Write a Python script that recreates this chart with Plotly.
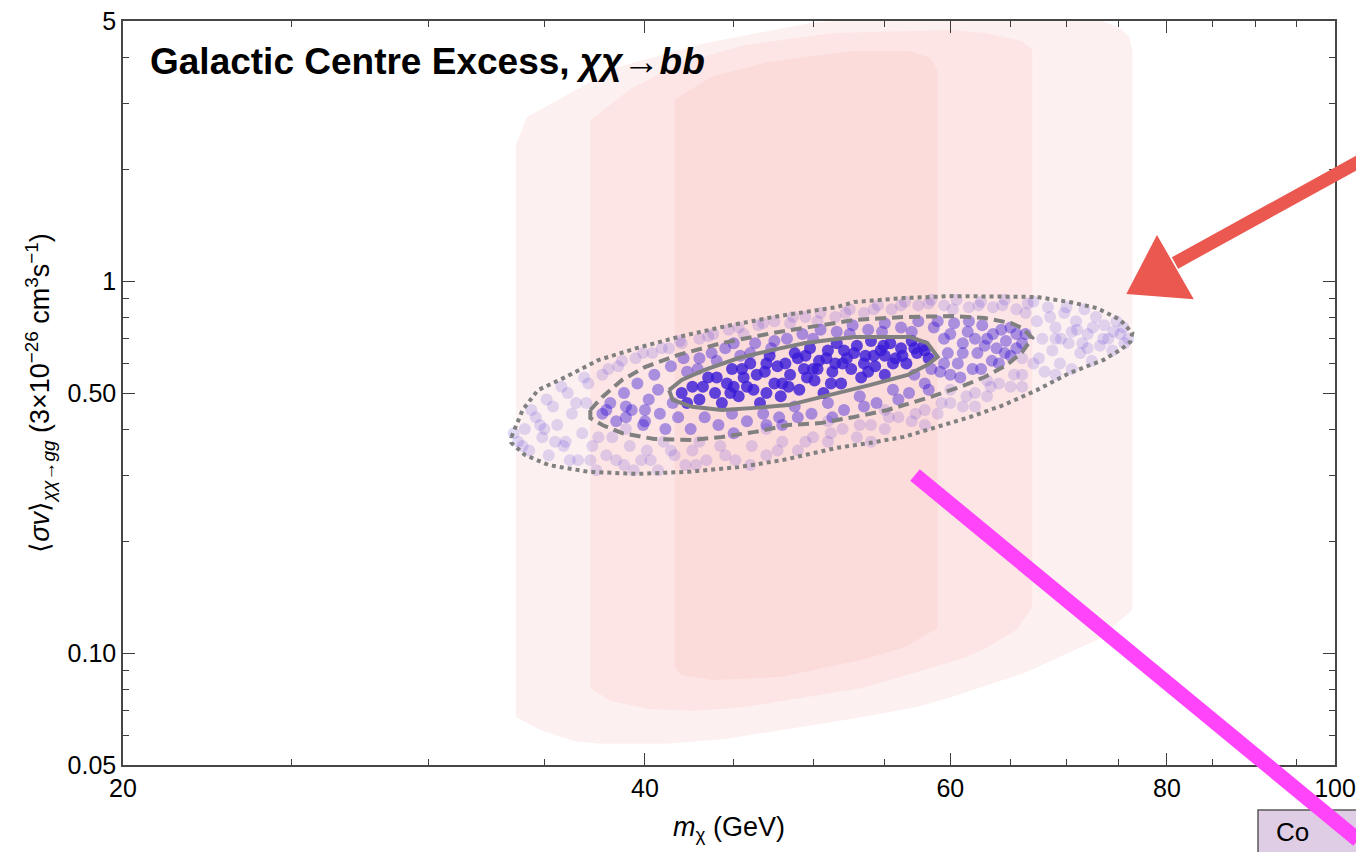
import plotly.graph_objects as go

# ---------------- data ----------------
# shaded regions (GeV, units of 3e-26 cm^3/s)
outer_x = [33.7, 34.2, 36.5, 38.6, 43.3, 49.8, 53.0, 72.9, 75.0, 76.1, 76.4, 76.4, 72.9, 66.2, 60.1, 57.4, 53.0, 44.5, 41.1, 37.7, 36.4, 34.8, 33.7]
outer_y = [2.32, 2.76, 3.26, 3.76, 4.36, 4.94, 5.05, 5.05, 4.82, 4.53, 4.18, 0.1305, 0.1084, 0.0884, 0.0762, 0.0716, 0.0669, 0.0587, 0.0570, 0.0570, 0.0580, 0.0621, 0.0673]
mid_x = [37.2, 39.3, 42.0, 45.7, 51.3, 60.0, 62.9, 66.0, 66.9, 66.9, 65.5, 62.9, 61.1, 53.4, 45.7, 42.7, 40.2, 38.2, 37.2]
mid_y = [2.71, 3.30, 3.86, 4.31, 4.64, 4.73, 4.64, 4.42, 4.18, 0.1330, 0.1153, 0.1032, 0.0970, 0.0805, 0.0716, 0.0699, 0.0707, 0.0743, 0.0805]
inner_x = [41.6, 43.7, 47.1, 52.7, 56.8, 58.4, 59.0, 59.0, 56.5, 53.6, 47.9, 43.7, 42.0, 41.6]
inner_y = [3.07, 3.54, 3.88, 4.15, 4.15, 3.98, 3.65, 0.1168, 0.1038, 0.0964, 0.0862, 0.0846, 0.0873, 0.0917]

# contours
dot_x = [33.5, 34.0, 34.7, 36.0, 37.6, 39.6, 41.8, 44.3, 47.4, 51.6, 52.8, 56.4, 60.2, 64.4, 67.3, 70.3, 72.9, 75.2, 76.4, 76.2, 75.2, 73.5, 70.3, 67.3, 64.4, 61.6, 58.9, 56.4, 53.9, 51.6, 48.0, 45.3, 42.4, 39.6, 37.1, 35.2, 34.1, 33.5, 33.5]
dot_y = [0.381, 0.450, 0.509, 0.552, 0.613, 0.661, 0.707, 0.752, 0.800, 0.851, 0.878, 0.900, 0.911, 0.911, 0.906, 0.878, 0.846, 0.786, 0.725, 0.686, 0.653, 0.613, 0.566, 0.509, 0.464, 0.431, 0.405, 0.381, 0.367, 0.356, 0.330, 0.316, 0.307, 0.303, 0.307, 0.320, 0.341, 0.367, 0.381]
dash_x = [37.2, 37.8, 38.8, 40.0, 41.8, 44.3, 47.4, 51.6, 52.8, 56.4, 60.2, 62.8, 65.0, 66.0, 66.9, 66.0, 64.7, 62.8, 60.8, 58.2, 55.2, 52.8, 50.5, 48.4, 46.3, 44.3, 42.6, 40.5, 38.8, 37.8, 37.2, 37.2]
dash_y = [0.450, 0.488, 0.542, 0.587, 0.633, 0.681, 0.725, 0.771, 0.786, 0.800, 0.805, 0.795, 0.771, 0.748, 0.703, 0.644, 0.595, 0.552, 0.519, 0.485, 0.450, 0.431, 0.415, 0.410, 0.393, 0.381, 0.374, 0.376, 0.390, 0.410, 0.428, 0.450]
solid_x = [41.3, 42.0, 43.3, 45.3, 47.4, 49.5, 51.6, 52.8, 55.2, 56.9, 58.2, 59.0, 58.2, 56.7, 53.9, 51.6, 50.5, 48.4, 46.3, 44.3, 42.6, 41.5, 41.3]
solid_y = [0.509, 0.542, 0.577, 0.621, 0.653, 0.681, 0.698, 0.707, 0.707, 0.707, 0.681, 0.625, 0.595, 0.559, 0.525, 0.500, 0.488, 0.464, 0.456, 0.450, 0.459, 0.479, 0.509]

# scan points: 1 sigma (dark)
p1_x = [42.0, 42.6, 43.0, 43.5, 43.9, 44.3, 44.6, 44.9, 45.3, 45.6, 46.0, 46.2, 46.6, 46.9, 47.2, 47.5, 47.9, 48.2, 48.5, 48.8, 49.1, 49.4, 49.8, 50.1, 50.4, 50.7, 51.0, 51.3, 51.6, 51.9, 52.3, 52.6, 53.0, 53.3, 53.6, 54.0, 54.3, 54.7, 55.0, 55.4, 55.8, 56.2, 56.6, 57.0, 57.4, 57.9, 58.3, 45.0, 48.0, 52.0, 55.0, 50.0,
        42.3, 43.2, 44.0, 44.8, 45.8, 46.4, 47.0, 47.7, 48.4, 49.0, 49.6, 50.3, 50.9, 51.5, 52.1, 52.8, 53.5, 54.2, 54.9, 55.6, 56.3, 57.2, 58.0, 45.5, 47.0, 49.5, 51.2, 53.8]
p1_y = [0.50, 0.52, 0.48, 0.55, 0.50, 0.47, 0.53, 0.58, 0.49, 0.55, 0.60, 0.51, 0.47, 0.57, 0.63, 0.53, 0.49, 0.60, 0.56, 0.64, 0.51, 0.58, 0.66, 0.54, 0.61, 0.50, 0.65, 0.57, 0.68, 0.53, 0.62, 0.58, 0.67, 0.55, 0.63, 0.69, 0.59, 0.65, 0.56, 0.68, 0.62, 0.66, 0.60, 0.69, 0.64, 0.67, 0.62, 0.52, 0.53, 0.60, 0.63, 0.58,
        0.47, 0.52, 0.55, 0.50, 0.52, 0.56, 0.50, 0.59, 0.52, 0.62, 0.55, 0.58, 0.62, 0.60, 0.65, 0.64, 0.60, 0.63, 0.67, 0.60, 0.63, 0.66, 0.65, 0.58, 0.60, 0.63, 0.53, 0.57]
# 2 sigma (medium)
p2_x = [37.8, 38.2, 38.5, 38.9, 39.3, 39.6, 39.9, 40.2, 40.5, 40.8, 41.1, 41.4, 41.8, 42.1, 42.5, 42.9, 43.3, 43.7, 44.1, 44.5, 44.9, 45.4, 45.8, 46.3, 46.8, 47.3, 47.8, 48.3, 48.8, 49.3, 49.9, 50.5, 51.0, 51.6, 52.1, 52.7, 53.2, 53.8, 54.4, 55.0, 55.6, 56.2, 56.8, 57.5, 58.0, 58.7, 59.2, 59.5, 59.8, 60.3, 60.6, 61.0, 61.4, 61.8, 62.2, 62.6, 63.0, 63.4, 63.8, 64.2, 64.6, 65.0, 65.5, 66.0, 60.0, 62.0, 58.5, 57.2, 48.0, 45.0, 40.0, 39.0,
        38.0, 39.0, 40.0, 40.7, 41.5, 42.3, 43.0, 44.0, 45.0, 46.0, 47.0, 47.5, 49.0, 50.0, 51.3, 52.5, 53.5, 54.8, 56.0, 57.0, 58.3, 59.0, 60.8, 61.5, 62.5, 63.5, 64.5, 65.5, 66.3, 60.0, 59.5, 62.8, 64.0, 65.0, 61.0]
p2_y = [0.44, 0.47, 0.42, 0.50, 0.45, 0.53, 0.41, 0.48, 0.56, 0.44, 0.40, 0.59, 0.43, 0.62, 0.40, 0.58, 0.43, 0.64, 0.41, 0.66, 0.44, 0.63, 0.42, 0.68, 0.44, 0.66, 0.43, 0.70, 0.46, 0.72, 0.44, 0.74, 0.47, 0.73, 0.45, 0.76, 0.49, 0.74, 0.47, 0.77, 0.51, 0.75, 0.50, 0.78, 0.53, 0.75, 0.57, 0.70, 0.64, 0.77, 0.60, 0.68, 0.73, 0.58, 0.64, 0.76, 0.70, 0.61, 0.66, 0.74, 0.69, 0.63, 0.72, 0.68, 0.56, 0.70, 0.58, 0.56, 0.41, 0.39, 0.42, 0.46,
        0.45, 0.43, 0.45, 0.51, 0.47, 0.57, 0.62, 0.61, 0.68, 0.64, 0.41, 0.69, 0.43, 0.70, 0.43, 0.72, 0.46, 0.73, 0.48, 0.73, 0.51, 0.78, 0.55, 0.78, 0.58, 0.72, 0.64, 0.66, 0.72, 0.72, 0.60, 0.67, 0.60, 0.75, 0.64]
# 3 sigma (light)
p3_x = [33.8, 34.1, 34.3, 34.6, 34.9, 35.2, 35.4, 35.6, 35.9, 36.1, 36.3, 36.6, 36.8, 37.1, 37.3, 37.5,
        37.8, 38.0, 38.3, 38.6, 38.9, 39.2, 39.5, 39.8, 40.1, 40.4, 40.7, 41.0, 41.3, 41.6, 41.9, 42.2,
        42.6, 43.0, 43.4, 43.8, 44.2, 44.7, 45.1, 45.6, 46.1, 46.5, 47.0, 47.5, 48.0, 48.5, 49.0, 49.5, 50.0, 50.5,
        51.0, 51.5, 52.0, 52.5, 53.0, 53.5, 54.0, 54.5, 55.0, 55.5, 56.0, 56.5, 57.0, 57.5, 58.0, 58.5, 59.0, 59.5, 60.0,
        60.5, 61.0, 61.5, 62.0, 62.5, 63.0, 63.5, 64.0, 64.5, 65.0, 65.5, 66.0, 66.5, 67.0, 67.3, 67.8, 68.0, 68.3, 68.7,
        69.0, 69.4, 69.8, 70.2, 70.5, 70.9, 71.3, 71.7, 72.0, 72.4, 72.8, 73.2, 73.6, 74.0, 74.4, 74.8, 75.2, 75.6,
        35.0, 36.0, 37.0, 39.0, 43.0, 47.0, 51.0, 55.0, 60.0, 63.0, 66.0, 69.0, 71.0,
        33.6, 34.0, 34.4, 34.8, 35.1, 35.5, 35.8, 36.2, 36.5, 36.9, 37.2, 37.6, 38.1, 38.5, 38.8, 39.4, 39.9, 40.3, 40.9, 41.4,
        42.0, 42.8, 43.5, 44.5, 45.3, 46.0, 46.8, 47.7, 48.7, 49.5, 50.3, 51.2, 52.2, 53.2, 54.2, 55.3, 56.2, 57.3, 58.3, 59.3,
        60.2, 61.3, 62.3, 63.3, 64.3, 65.3, 66.3, 67.5, 68.5, 69.5, 70.5, 71.5, 72.5, 73.5, 74.5, 75.5, 76.0, 67.0, 70.0, 72.0,
        54.0, 58.0, 62.0, 66.0, 69.0]
p3_y = [0.37, 0.40, 0.35, 0.43, 0.38, 0.34, 0.46, 0.41, 0.36, 0.50, 0.44, 0.33, 0.39, 0.53, 0.36, 0.31,
        0.56, 0.34, 0.38, 0.59, 0.32, 0.36, 0.62, 0.33, 0.35, 0.64, 0.31, 0.37, 0.66, 0.34, 0.69, 0.32,
        0.35, 0.70, 0.33, 0.72, 0.36, 0.74, 0.33, 0.72, 0.36, 0.76, 0.34, 0.78, 0.37, 0.77, 0.35, 0.80, 0.38, 0.82,
        0.37, 0.80, 0.40, 0.84, 0.38, 0.82, 0.41, 0.86, 0.40, 0.84, 0.43, 0.88, 0.42, 0.86, 0.45, 0.89, 0.44, 0.86, 0.47,
        0.89, 0.46, 0.85, 0.50, 0.88, 0.49, 0.85, 0.53, 0.89, 0.52, 0.84, 0.56, 0.87, 0.60, 0.78, 0.70, 0.57, 0.85, 0.65,
        0.75, 0.60, 0.82, 0.68, 0.58, 0.78, 0.64, 0.84, 0.72, 0.61, 0.80, 0.67, 0.76, 0.70, 0.65, 0.78, 0.72, 0.68,
        0.40, 0.37, 0.47, 0.40, 0.37, 0.40, 0.42, 0.45, 0.51, 0.54, 0.62, 0.70, 0.74,
        0.39, 0.36, 0.45, 0.41, 0.48, 0.37, 0.52, 0.33, 0.47, 0.55, 0.33, 0.38, 0.58, 0.33, 0.61, 0.31, 0.64, 0.33, 0.66, 0.35,
        0.68, 0.32, 0.71, 0.34, 0.75, 0.32, 0.77, 0.35, 0.80, 0.37, 0.78, 0.39, 0.82, 0.41, 0.84, 0.43, 0.86, 0.44, 0.87, 0.47,
        0.84, 0.49, 0.86, 0.52, 0.86, 0.56, 0.82, 0.62, 0.80, 0.70, 0.73, 0.68, 0.75, 0.70, 0.73, 0.75, 0.70, 0.88, 0.85, 0.66,
        0.37, 0.41, 0.46, 0.52, 0.56]

x_major = [20, 40, 60, 80, 100]
x_major_text = ["20", "40", "60", "80", "100"]
x_minor = [25, 30, 35, 45, 50, 55, 65, 70, 75, 85, 90, 95]
y_major = [0.05, 0.1, 0.5, 1, 5]
y_major_text = ["0.05", "0.10", "0.50", "1", "5"]
y_minor = [0.06, 0.07, 0.08, 0.09, 0.2, 0.3, 0.4, 0.6, 0.7, 0.8, 0.9, 2, 3, 4]

# ---------------- figure ----------------
W, H = 1356, 852
ML, MR, MT, MB = 123, 21, 21, 87

def px(x):
    return (x - ML) / (W - ML - MR)

def py(y):
    return (H - MB - y) / (H - MT - MB)

fig = go.Figure()
for xs, ys, col in [(outer_x, outer_y, "rgb(253,240,240)"),
                    (mid_x, mid_y, "rgb(253,229,229)"),
                    (inner_x, inner_y, "rgb(252,219,219)")]:
    fig.add_trace(go.Scatter(x=xs, y=ys, mode="lines", fill="toself", fillcolor=col,
                             line=dict(width=0, color=col), hoverinfo="skip", showlegend=False))

pt_col = "rgb(55,25,215)"
for xs, ys, op in [(p3_x, p3_y, 0.15), (p2_x, p2_y, 0.42), (p1_x, p1_y, 0.8)]:
    fig.add_trace(go.Scatter(x=xs, y=ys, mode="markers",
                             marker=dict(size=12, color=pt_col, opacity=op, line=dict(width=0)),
                             showlegend=False))

gray = "rgb(128,128,128)"
for xs, ys, dsh in [(dot_x, dot_y, "4px,4px"), (dash_x, dash_y, "11px,6px"), (solid_x, solid_y, "solid")]:
    fig.add_trace(go.Scatter(x=xs, y=ys, mode="lines", line=dict(color=gray, width=4, dash=dsh),
                             showlegend=False))

font = "Liberation Sans, Arial, Helvetica, sans-serif"
axis_common = dict(type="log", showgrid=False, zeroline=False, showline=True, linecolor="rgb(70,70,70)",
                   linewidth=1.5, mirror="allticks", ticks="inside", ticklen=12, tickwidth=1.2,
                   tickcolor="rgb(60,60,60)", tickfont=dict(size=25, color="black", family=font),
                   ticklabeloverflow="allow", automargin=False)
fig.update_xaxes(**axis_common, range=[1.30103, 2.0], tickmode="array", tickvals=x_major,
                 ticktext=x_major_text,
                 minor=dict(tickmode="array", tickvals=x_minor, ticks="inside", ticklen=6,
                            tickwidth=1.2, tickcolor="rgb(60,60,60)"),
                 title=dict(text="<i>m</i><sub>χ</sub> (GeV)", font=dict(size=27, color="black", family=font),
                            standoff=16))
fig.update_yaxes(**axis_common, range=[-1.30103, 0.69897], tickmode="array", tickvals=y_major,
                 ticktext=y_major_text,
                 minor=dict(tickmode="array", tickvals=y_minor, ticks="inside", ticklen=6,
                            tickwidth=1.2, tickcolor="rgb(60,60,60)"),
                 title=dict(text="⟨<i>σv</i>⟩<sub><i>χχ</i>→<i>gg</i></sub> (3×10<sup>−26</sup> cm<sup>3</sup>s<sup>−1</sup>)",
                            font=dict(size=27, color="black", family=font), standoff=10))

shapes = []
# clipped legend box at bottom right
shapes.append(dict(type="rect", xref="paper", yref="paper", x0=px(1258), x1=px(1375), y0=py(810), y1=py(880),
                   fillcolor="rgb(222,205,228)", line=dict(color="rgb(90,90,90)", width=1.5), layer="above"))
# red hand-drawn arrow
red = "rgb(234,88,80)"
shapes.append(dict(type="line", xref="paper", yref="paper", x0=px(1360), y0=py(161), x1=px(1175), y1=py(263),
                   line=dict(color=red, width=13), layer="above"))
shapes.append(dict(type="path", xref="paper", yref="paper",
                   path=f"M {px(1128)} {py(293)} L {px(1157)} {py(237)} L {px(1192)} {py(298)} Z",
                   fillcolor=red, line=dict(color=red, width=2), layer="above"))
# magenta stroke
mag = "rgb(255,68,250)"
shapes.append(dict(type="line", xref="paper", yref="paper", x0=px(915), y0=py(475), x1=px(1358), y1=py(840),
                   line=dict(color=mag, width=15), layer="above"))

annotations = [
    dict(xref="paper", yref="paper", x=px(148), y=py(62), xanchor="left", yanchor="middle", showarrow=False,
         text="<b>Galactic Centre Excess, <i>χχ</i>→<i>bb</i></b>",
         font=dict(size=37, color="black", family=font)),
    dict(xref="paper", yref="paper", x=px(1274), y=py(832), xanchor="left", yanchor="middle", showarrow=False,
         text="Co", font=dict(size=26, color="black", family=font)),
]

fig.update_layout(width=W, height=H, margin=dict(l=ML, r=MR, t=MT, b=MB),
                  plot_bgcolor="white", paper_bgcolor="white",
                  shapes=shapes, annotations=annotations, showlegend=False)

fig.write_html("out.html")
